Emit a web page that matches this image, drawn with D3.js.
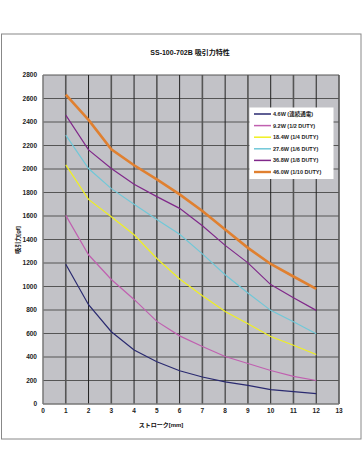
<!DOCTYPE html>
<html>
<head>
<meta charset="utf-8">
<script src="https://cdn.jsdelivr.net/npm/d3@7"></script>
<style>
  body { margin: 0; background: #fff; }
  text { font-family: "Liberation Sans", "Noto Sans CJK JP", sans-serif; }
</style>
</head>
<body>
<div id="chart"></div>
<script>
const strokes = [1, 2, 3, 4, 5, 6, 7, 8, 9, 10, 11, 12];
const s46 = [1190, 845, 615, 460, 360, 283, 230, 188, 158, 122, 105, 88];
const s92 = [1605, 1270, 1060, 890, 703, 580, 490, 404, 345, 285, 235, 200];
const s184 = [2035, 1741, 1594, 1440, 1238, 1064, 922, 788, 683, 575, 500, 421];
const s276 = [2288, 2004, 1833, 1700, 1571, 1445, 1278, 1100, 945, 797, 700, 598];
const s368 = [2459, 2163, 2004, 1870, 1765, 1665, 1517, 1350, 1201, 1016, 905, 797];
const s460 = [2632, 2418, 2168, 2032, 1912, 1784, 1642, 1485, 1329, 1192, 1085, 979];
const seriesNames = ["4.6W (連続通電)", "9.2W (1/2 DUTY)", "18.4W (1/4 DUTY)", "27.6W (1/6 DUTY)", "36.8W (1/8 DUTY)", "46.0W (1/10 DUTY)"];
const seriesColors = ["#2a2a70", "#c060b0", "#f0f020", "#70c8d8", "#80288a", "#e08030"];
const seriesWidths = [1.2, 1.2, 1.2, 1.2, 1.2, 2.6];
const xTicks = d3.range(0, 14);
const yTicks = d3.range(0, 2801, 200);

const W = 363, H = 474;
const svg = d3.select("#chart").append("svg")
    .attr("width", W).attr("height", H);

// outer frame
svg.append("rect")
    .attr("x", 1.5).attr("y", 34).attr("width", 359.5).attr("height", 405)
    .attr("fill", "none").attr("stroke", "#888").attr("stroke-width", 1);

const x = d3.scaleLinear().domain([0, 13]).range([43, 339]);
const y = d3.scaleLinear().domain([0, 2800]).range([404, 75]);

svg.append("rect")
    .attr("x", x(0)).attr("y", y(2800))
    .attr("width", x(13) - x(0)).attr("height", y(0) - y(2800))
    .attr("fill", "#c2c2c7");

// grid
svg.append("g").selectAll("line").data(yTicks.slice(1)).enter().append("line")
    .attr("x1", x(0)).attr("x2", x(13))
    .attr("y1", d => y(d)).attr("y2", d => y(d))
    .attr("stroke", "#555").attr("stroke-width", 1);
svg.append("g").selectAll("line").data(xTicks.slice(1)).enter().append("line")
    .attr("x1", d => x(d)).attr("x2", d => x(d))
    .attr("y1", y(0)).attr("y2", y(2800))
    .attr("stroke", (d, i) => i % 2 ? "#222" : "#555")
    .attr("stroke-width", (d, i) => i % 2 ? 1 : 1.6);

// axes
svg.append("line").attr("x1", x(0)).attr("x2", x(0)).attr("y1", y(0)).attr("y2", y(2800))
    .attr("stroke", "#777").attr("stroke-width", 1.5);
svg.append("line").attr("x1", x(0)).attr("x2", x(13)).attr("y1", y(0)).attr("y2", y(0))
    .attr("stroke", "#777").attr("stroke-width", 1.5);

svg.append("g").selectAll("text").data(yTicks).enter().append("text")
    .attr("x", 37).attr("y", d => y(d) + 2)
    .attr("text-anchor", "end").attr("font-size", 6.5).attr("font-weight", "bold")
    .attr("fill", "#222").text(d => d);
svg.append("g").selectAll("text").data(xTicks).enter().append("text")
    .attr("x", d => x(d)).attr("y", 413)
    .attr("text-anchor", "middle").attr("font-size", 6.5).attr("font-weight", "bold")
    .attr("fill", "#222").text(d => d);

// titles
svg.append("text").attr("x", 190).attr("y", 55).attr("text-anchor", "middle")
    .attr("font-size", 7).attr("font-weight", "bold").attr("fill", "#111")
    .text("SS-100-702B  吸引力特性");
svg.append("text").attr("x", 161).attr("y", 427).attr("text-anchor", "middle")
    .attr("font-size", 6).attr("font-weight", "bold").attr("fill", "#111")
    .text("ストローク[mm]");
svg.append("text").attr("transform", "translate(20,240) rotate(-90)")
    .attr("text-anchor", "middle")
    .attr("font-size", 6).attr("font-weight", "bold").attr("fill", "#111")
    .text("吸引力[gf]");

// lines
const data = [s46, s92, s184, s276, s368, s460];
const line = d3.line().x((d, i) => x(strokes[i])).y(d => y(d));
svg.append("g").selectAll("path").data(data).enter().append("path")
    .attr("d", line)
    .attr("fill", "none")
    .attr("stroke", (d, i) => seriesColors[i])
    .attr("stroke-width", (d, i) => seriesWidths[i]);

// legend
const lg = svg.append("g");
lg.append("rect").attr("x", 249.5).attr("y", 107.5).attr("width", 84).attr("height", 71.5)
    .attr("fill", "#fff");
const items = lg.selectAll("g").data(seriesNames).enter().append("g")
    .attr("transform", (d, i) => `translate(0,${114 + i * 11.6})`);
items.append("line").attr("x1", 254).attr("x2", 271)
    .attr("stroke", (d, i) => seriesColors[i])
    .attr("stroke-width", (d, i) => i === 5 ? 2.4 : 1.5);
items.append("text").attr("x", 273).attr("y", 2)
    .attr("font-size", 5.5).attr("font-weight", "bold").attr("fill", "#222")
    .text(d => d);
</script>
</body>
</html>
